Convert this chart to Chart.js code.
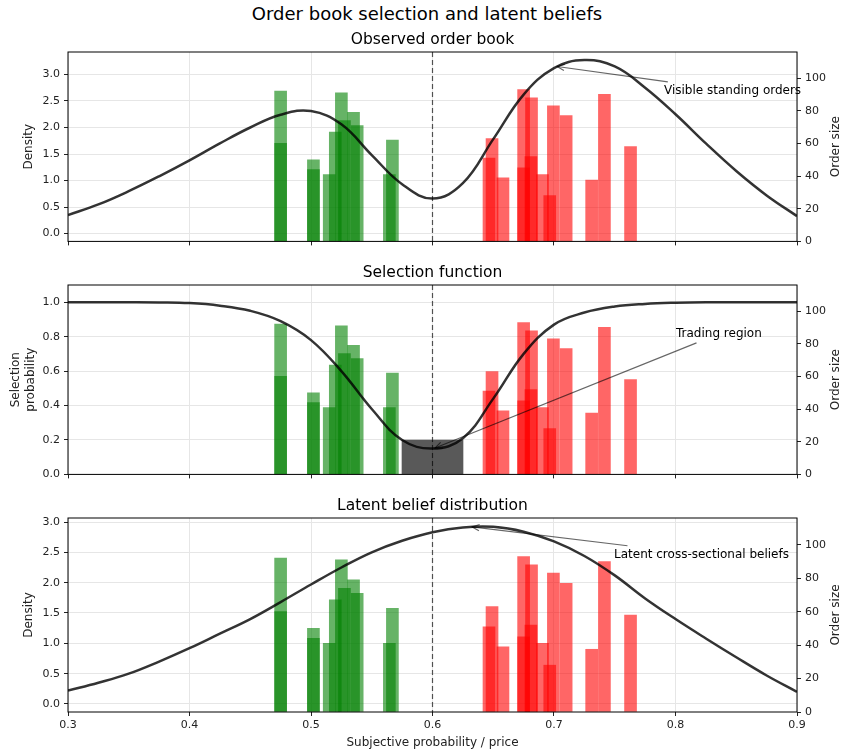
<!DOCTYPE html>
<html>
<head>
<meta charset="utf-8">
<script src="https://cdn.jsdelivr.net/npm/chart.js@4.4.1/dist/chart.umd.min.js"></script>
<style>
  body { margin: 0; background: #fff; }
  #fig { position: relative; width: 844px; height: 756px; overflow: hidden; font-family: "DejaVu Sans", sans-serif; }
  #suptitle { position: absolute; left: 5px; top: 3px; width: 844px; text-align: center; font-size: 18px; color: #000; }
  canvas { position: absolute; left: 0; }
</style>
</head>
<body>
<div id="fig">
  <div id="suptitle">Order book selection and latent beliefs</div>
  <canvas id="observed" width="844" height="228" style="top:24px"></canvas>
  <canvas id="selection" width="844" height="228" style="top:257px"></canvas>
  <canvas id="latent" width="844" height="266" style="top:490px"></canvas>
</div>
<script>
// price grid for the smooth curves
const priceGrid = [0.3, 0.325, 0.35, 0.375, 0.4, 0.425, 0.45, 0.475, 0.5, 0.525, 0.55, 0.575, 0.6,
	0.625, 0.65, 0.675, 0.7, 0.725, 0.75, 0.775, 0.8, 0.825, 0.85, 0.875, 0.9];
const observedDensity = [0.35, 0.55, 0.80, 1.08, 1.38, 1.70, 2.00, 2.24, 2.31, 2.06, 1.48, 0.93, 0.66,
	0.95, 1.78, 2.62, 3.12, 3.27, 3.15, 2.75, 2.25, 1.70, 1.18, 0.72, 0.33];
const selectionProb = [1.0, 1.0, 1.0, 0.999, 0.995, 0.98, 0.95, 0.89, 0.78, 0.60, 0.38, 0.20, 0.15,
	0.21, 0.44, 0.70, 0.87, 0.94, 0.975, 0.99, 0.997, 1.0, 1.0, 1.0, 1.0];
const latentDensity = [0.22, 0.35, 0.50, 0.70, 0.92, 1.16, 1.40, 1.68, 1.97, 2.25, 2.50, 2.69, 2.83,
	2.91, 2.92, 2.84, 2.68, 2.44, 2.12, 1.74, 1.40, 1.08, 0.77, 0.47, 0.20];

// standing orders (price, size)
const bidPrices = [0.475, 0.475, 0.502, 0.502, 0.515, 0.52, 0.525, 0.5275, 0.535, 0.538, 0.5645, 0.567];
const bidSizes = [92, 60, 50, 44, 41, 67, 91, 74, 79, 71, 41, 62];
const askPrices = [0.6465, 0.649, 0.658, 0.675, 0.675, 0.6815, 0.681, 0.6905, 0.6965, 0.6995, 0.71, 0.731, 0.7415, 0.763];
const askSizes = [51, 63, 39, 93, 45, 88, 52, 41, 28, 83, 77, 37.5, 90, 58];

const tradingPrice = [0.6];
const tradingHeight = [0.2];
const midPrice = 0.6;

const xTicks = [0.3, 0.4, 0.5, 0.6, 0.7, 0.8, 0.9];
const densityTicks = [0, 0.5, 1, 1.5, 2, 2.5, 3];
const selectionTicks = [0, 0.2, 0.4, 0.6, 0.8, 1];
const sizeTicks = [0, 20, 40, 60, 80, 100];

const FONT = '"DejaVu Sans", sans-serif';
Chart.defaults.font.family = FONT;
Chart.defaults.color = '#222';

function pts(xs, ys) {
	return xs.map((x, i) => ({ x: x, y: ys[i] }));
}

// dashed mid line, annotation, frame, subplot title, right label
const panelPlugin = {
	id: 'panel',
	afterDatasetsDraw(chart, args, opts) {
		const ctx = chart.ctx;
		const a = chart.chartArea;
		const sx = chart.scales.x;
		const sy = chart.scales.y;
		ctx.save();

		const mx = sx.getPixelForValue(midPrice);
		ctx.strokeStyle = 'rgba(0,0,0,0.65)';
		ctx.lineWidth = 1.2;
		ctx.setLineDash([5, 3]);
		ctx.beginPath();
		ctx.moveTo(mx, a.top);
		ctx.lineTo(mx, a.bottom);
		ctx.stroke();
		ctx.setLineDash([]);

		const n = opts.note;
		ctx.font = '12px ' + FONT;
		const tx = sx.getPixelForValue(n.at[0]);
		const ty = sy.getPixelForValue(n.at[1]);
		const tipX = sx.getPixelForValue(n.tip[0]);
		const tipY = sy.getPixelForValue(n.tip[1]);
		const w = ctx.measureText(n.text).width;
		const cx = tx + w / 2;
		const dx = tipX - cx, dy = tipY - ty;
		const t = Math.min(w / 2 / Math.abs(dx), 9 / Math.abs(dy));
		const x0 = cx + dx * t, y0 = ty + dy * t;
		ctx.strokeStyle = 'rgba(0,0,0,0.6)';
		ctx.lineWidth = 1.2;
		ctx.beginPath();
		ctx.moveTo(x0, y0);
		ctx.lineTo(tipX, tipY);
		ctx.stroke();
		const ang = Math.atan2(tipY - y0, tipX - x0);
		ctx.beginPath();
		ctx.moveTo(tipX - 8 * Math.cos(ang - 0.4), tipY - 8 * Math.sin(ang - 0.4));
		ctx.lineTo(tipX, tipY);
		ctx.lineTo(tipX - 8 * Math.cos(ang + 0.4), tipY - 8 * Math.sin(ang + 0.4));
		ctx.stroke();
		ctx.fillStyle = '#000';
		ctx.textAlign = 'left';
		ctx.textBaseline = 'middle';
		ctx.fillText(n.text, tx, ty);

		ctx.strokeStyle = '#000';
		ctx.lineWidth = 1;
		ctx.strokeRect(a.left, a.top, a.right - a.left, a.bottom - a.top);

		ctx.font = '15.5px ' + FONT;
		ctx.textAlign = 'center';
		ctx.fillText(opts.title, (a.left + a.right) / 2, a.top - 12);

		ctx.font = '12px ' + FONT;
		ctx.fillStyle = '#222';
		ctx.translate(836, (a.top + a.bottom) / 2);
		ctx.rotate(-Math.PI / 2);
		ctx.fillText('Order size', 0, 0);
		ctx.restore();
	}
};

function orderBars(prices, sizes, color) {
	return {
		type: 'bar', data: pts(prices, sizes), yAxisID: 'y2',
		backgroundColor: color, borderWidth: 0, barThickness: 12, grouped: false, order: 2
	};
}

function curve(values) {
	return {
		type: 'line', data: pts(priceGrid, values), yAxisID: 'y',
		borderColor: 'rgba(0,0,0,0.8)', borderWidth: 2.5, pointRadius: 0,
		tension: 0.4, fill: false, order: 0
	};
}

function makeChart(id, cfg) {
	const gridColor = '#e6e6e6';
	new Chart(document.getElementById(id), {
		type: 'bar',
		data: { datasets: cfg.datasets },
		options: {
			responsive: false,
			animation: false,
			events: [],
			layout: { padding: { top: 28, left: 0, right: 0, bottom: 0 } },
			plugins: {
				legend: { display: false },
				tooltip: { enabled: false },
				panel: { title: cfg.title, note: cfg.note }
			},
			scales: {
				x: {
					type: 'linear', min: 0.3, max: 0.9, offset: false,
					afterBuildTicks: (s) => { s.ticks = xTicks.map((v) => ({ value: v })); },
					afterFit: (s) => { s.height = cfg.bottomH; },
					grid: { color: gridColor, tickColor: '#222', tickLength: 4, offset: false },
					border: { display: false },
					ticks: {
						display: cfg.showX, padding: 3, maxRotation: 0, autoSkip: false,
						font: { size: 11 }, callback: (v) => v.toFixed(1)
					},
					title: {
						display: cfg.showX, text: 'Subjective probability / price',
						font: { size: 12 }, padding: { top: 0, bottom: 6 }
					}
				},
				y: {
					position: 'left', min: cfg.yMin, max: cfg.yMax,
					afterBuildTicks: (s) => { s.ticks = cfg.yTicks.map((v) => ({ value: v })); },
					afterFit: (s) => { s.width = 68; },
					grid: { color: gridColor, tickColor: '#222', tickLength: 4 },
					border: { display: false },
					ticks: { padding: 4, font: { size: 11 }, callback: (v) => v.toFixed(1) },
					title: { display: true, text: cfg.yLabel, font: { size: 12 }, padding: { top: cfg.yLabelPad } }
				},
				y2: {
					position: 'right', min: 0, max: 116,
					afterBuildTicks: (s) => { s.ticks = sizeTicks.map((v) => ({ value: v })); },
					afterFit: (s) => { s.width = 47; },
					grid: { drawOnChartArea: false, tickColor: '#222', tickLength: 4 },
					border: { display: false },
					ticks: { padding: 4, font: { size: 11 }, callback: (v) => String(v) }
				}
			}
		},
		plugins: [panelPlugin]
	});
}

const bidColor = 'rgba(0,128,0,0.6)';
const askColor = 'rgba(255,0,0,0.6)';

makeChart('observed', {
	title: 'Observed order book',
	datasets: [curve(observedDensity), orderBars(bidPrices, bidSizes, bidColor), orderBars(askPrices, askSizes, askColor)],
	yMin: -0.147, yMax: 3.423, yTicks: densityTicks, yLabel: 'Density', yLabelPad: 22,
	bottomH: 6, showX: false,
	note: { text: 'Visible standing orders', at: [0.7905, 2.69], tip: [0.7025, 3.15] }
});

makeChart('selection', {
	title: 'Selection function',
	datasets: [
		curve(selectionProb),
		{
			type: 'bar', data: pts(tradingPrice, tradingHeight), yAxisID: 'y',
			backgroundColor: 'rgba(0,0,0,0.65)', borderWidth: 0, barThickness: 61, grouped: false, order: 1
		},
		orderBars(bidPrices, bidSizes, bidColor), orderBars(askPrices, askSizes, askColor)
	],
	yMin: 0, yMax: 1.1, yTicks: selectionTicks, yLabel: ['Selection', 'probability'], yLabelPad: 9,
	bottomH: 6, showX: false,
	note: { text: 'Trading region', at: [0.8004, 0.816], tip: [0.602, 0.153] }
});

makeChart('latent', {
	title: 'Latent belief distribution',
	datasets: [curve(latentDensity), orderBars(bidPrices, bidSizes, bidColor), orderBars(askPrices, askSizes, askColor)],
	yMin: -0.132, yMax: 3.066, yTicks: densityTicks, yLabel: 'Density', yLabelPad: 22,
	bottomH: 44, showX: true,
	note: { text: 'Latent cross-sectional beliefs', at: [0.7494, 2.46], tip: [0.6325, 2.92] }
});
</script>
</body>
</html>
